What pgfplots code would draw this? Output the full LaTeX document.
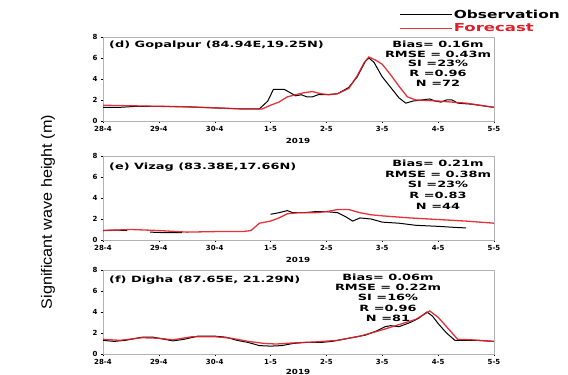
\documentclass[border=0pt]{standalone}
\usepackage{pgfplots}
\pgfplotsset{compat=1.18}
\usepackage{graphicx}
\usepackage{fontspec}
\setmainfont{DejaVu Sans}
\newfontfamily\lib{Liberation Sans}
\definecolor{fc}{RGB}{222,30,40}
\newcommand{\wide}[1]{\scalebox{1.5}[1]{#1}}
\newcommand{\statline}[3]{\node[anchor=base, inner sep=0pt, font=\fontsize{8.6}{10}\selectfont\bfseries] at (#1pt,#2pt) {\wide{#3}};}
\pgfplotsset{panel/.style={
  scale only axis, width=391pt, height=84pt,
  xmin=0, xmax=7, ymin=0, ymax=8,
  xtick={0,1,2,3,4,5,6,7},
  xticklabels={28-4,29-4,30-4,1-5,2-5,3-5,4-5,5-5},
  ytick={0,2,4,6,8},
  axis line style={gray!60},
  tick style={black, thin},
  tick align=outside, xtick pos=bottom, ytick pos=left,
  major tick length=2pt,
  tick label style={font=\fontsize{7}{8}\selectfont\bfseries},
  /pgf/number format/assume math mode=true,
  unbounded coords=jump,
  obs/.style={black, line width=1pt},
  fcst/.style={fc, line width=1.3pt, opacity=0.9},
}}
\begin{document}
\begin{tikzpicture}
\useasboundingbox (0pt,0pt) rectangle (568pt,375pt);
% ---------------- panel d
\begin{axis}[panel, at={(103pt,254pt)}, anchor=south west,
  legend style={at={(0.758,1.335)}, anchor=north west, draw=none, fill=none,
    inner sep=0pt, row sep=2pt,
    font=\fontsize{11}{12}\selectfont\bfseries,
    nodes={inner sep=1pt}},
  legend cell align=left,
  legend image code/.code={\draw[#1] (0pt,0pt) -- (52pt,0pt);}]
\addplot[obs] table {
x y
0 1.3
0.3 1.3
0.6 1.4
1.0 1.4
1.5 1.35
2.0 1.25
2.5 1.15
2.8 1.15
2.95 1.9
3.05 3.0
3.25 3.0
3.45 2.4
3.55 2.5
3.65 2.3
3.75 2.3
3.85 2.5
4.0 2.5
4.2 2.6
4.4 3.2
4.55 4.2
4.7 5.7
4.76 6.0
4.85 5.6
5.0 4.2
5.15 3.2
5.3 2.2
5.42 1.7
5.55 1.9
5.7 2.0
5.85 2.1
5.95 1.9
6.05 1.8
6.15 2.0
6.25 2.0
6.35 1.7
6.6 1.6
7.0 1.3
};
\addlegendentry{\scalebox{1.4}[1]{Observation}}
\addplot[fcst] table {
x y
0 1.5
0.5 1.45
1.0 1.4
1.5 1.35
2.0 1.25
2.5 1.15
2.85 1.15
3.0 1.5
3.15 1.8
3.3 2.3
3.45 2.5
3.6 2.7
3.75 2.8
3.9 2.6
4.05 2.5
4.2 2.6
4.4 3.1
4.55 4.3
4.68 5.6
4.76 6.1
4.88 5.8
5.0 5.4
5.15 4.4
5.3 3.3
5.45 2.3
5.6 2.0
6.0 1.9
6.5 1.7
7.0 1.3
};
\addlegendentry{\textcolor{fc}{\scalebox{1.5}[1]{Forecast}}}
\end{axis}
% ---------------- panel e
\begin{axis}[panel, at={(103pt,135pt)}, anchor=south west]
\addplot[obs] table {
x y
0 0.9
0.2 0.95
0.43 0.9
0.6 nan
0.84 0.75
1.1 0.7
1.41 0.7
1.6 nan
3.0 2.45
3.15 2.6
3.3 2.8
3.4 2.6
3.6 2.6
3.8 2.7
4.0 2.7
4.2 2.6
4.35 2.2
4.47 1.8
4.6 2.1
4.8 2.0
5.0 1.7
5.3 1.6
5.6 1.4
6.0 1.3
6.3 1.2
6.5 1.15
};
\addplot[fcst] table {
x y
0 0.9
0.5 1.0
1.0 0.9
1.5 0.75
2.0 0.8
2.5 0.8
2.65 0.9
2.8 1.6
3.0 1.8
3.15 2.1
3.3 2.5
3.5 2.6
3.8 2.6
4.0 2.7
4.2 2.9
4.4 2.9
4.6 2.6
4.8 2.4
5.0 2.3
5.5 2.1
6.0 1.95
6.5 1.8
7.0 1.6
};
\end{axis}
% ---------------- panel f
\begin{axis}[panel, at={(103pt,21pt)}, anchor=south west]
\addplot[obs] table {
x y
0 1.3
0.2 1.2
0.4 1.3
0.7 1.6
0.9 1.6
1.1 1.4
1.25 1.25
1.45 1.4
1.7 1.7
2.0 1.7
2.2 1.6
2.4 1.3
2.6 1.1
2.8 0.8
3.0 0.75
3.2 0.8
3.4 1.0
3.6 1.1
3.9 1.1
4.1 1.2
4.3 1.4
4.5 1.6
4.7 1.8
4.9 2.2
5.05 2.6
5.15 2.7
5.3 2.6
5.5 3.0
5.65 3.4
5.8 4.0
5.9 3.6
6.0 2.9
6.15 2.0
6.3 1.3
6.5 1.3
6.7 1.3
7.0 1.2
};
\addplot[fcst] table {
x y
0 1.4
0.3 1.3
0.7 1.55
1.0 1.5
1.25 1.35
1.6 1.65
2.0 1.65
2.3 1.5
2.6 1.2
2.9 1.0
3.1 0.95
3.4 1.05
3.8 1.15
4.2 1.3
4.6 1.7
5.0 2.3
5.3 2.8
5.6 3.3
5.85 4.1
6.0 3.5
6.2 2.3
6.35 1.4
6.6 1.35
7.0 1.2
};
\end{axis}
% ---------------- texts
\begin{scope}[every node/.style={font=\fontsize{8.6}{10}\selectfont\bfseries, inner sep=0pt}]
\node[anchor=base west] at (109pt,327pt) {\wide{(d) Gopalpur (84.94E,19.25N)}};
\node[anchor=base west] at (109pt,205pt) {\wide{(e) Vizag (83.38E,17.66N)}};
\node[anchor=base west] at (109pt,92pt) {\wide{(f) Digha (87.65E, 21.29N)}};
\end{scope}
\statline{438}{327}{Bias= 0.16m}
\statline{438}{317}{RMSE = 0.43m}
\statline{438}{308}{SI =23\%}
\statline{438}{298}{R =0.96}
\statline{438}{288}{N =72}
\statline{438}{208}{Bias= 0.21m}
\statline{438}{197}{RMSE = 0.38m}
\statline{438}{187}{SI =23\%}
\statline{438}{176}{R =0.83}
\statline{438}{165}{N =44}
\statline{388}{94}{Bias= 0.06m}
\statline{388}{84}{RMSE = 0.22m}
\statline{388}{74}{SI =16\%}
\statline{388}{63}{R =0.96}
\statline{388}{53}{N =81}
\begin{scope}[every node/.style={font=\fontsize{7}{8}\selectfont\bfseries, inner sep=0pt}]
\node at (298pt,234pt) {\scalebox{1.25}[1]{2019}};
\node at (298pt,115pt) {\scalebox{1.25}[1]{2019}};
\node at (298pt,3.5pt) {\scalebox{1.25}[1]{2019}};
\end{scope}
\node[rotate=90, inner sep=0pt, font=\lib\fontsize{15}{16}\selectfont] at (48pt,163pt) {\scalebox{1.08}[1]{Significant wave height (m)}};
\end{tikzpicture}
\end{document}
